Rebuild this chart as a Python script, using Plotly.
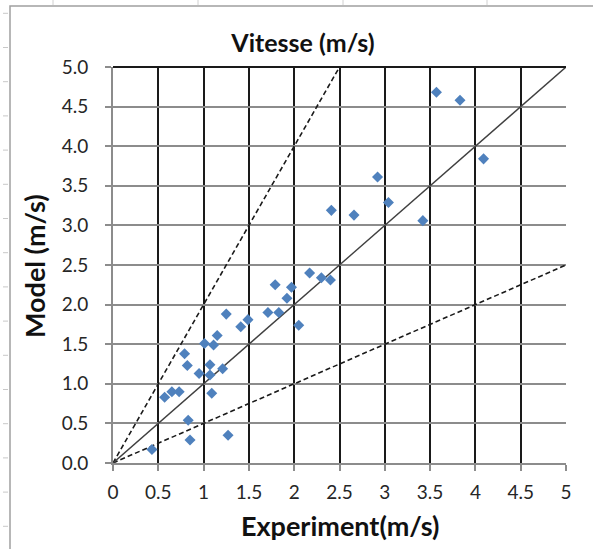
import plotly.graph_objects as go

# Data
experiment = [0.43, 0.57, 0.65, 0.73, 0.79, 0.82, 0.83, 0.85, 0.95, 1.01, 1.07, 1.07,
              1.09, 1.11, 1.15, 1.21, 1.25, 1.27, 1.41, 1.49, 1.71, 1.79, 1.83, 1.92,
              1.97, 2.05, 2.17, 2.30, 2.40, 2.41, 2.66, 2.92, 3.04, 3.42, 3.57, 3.83, 4.09]
model = [0.17, 0.83, 0.90, 0.90, 1.38, 1.23, 0.54, 0.29, 1.13, 1.51, 1.24, 1.11,
         0.88, 1.49, 1.61, 1.19, 1.88, 0.35, 1.72, 1.81, 1.90, 2.25, 1.90, 2.08,
         2.22, 1.74, 2.40, 2.34, 2.31, 3.19, 3.13, 3.61, 3.29, 3.06, 4.68, 4.58, 3.84]

ident_x = [0, 5]
ident_y = [0, 5]
upper_x = [0, 2.5]
upper_y = [0, 5]
lower_x = [0, 5]
lower_y = [0, 2.5]

x_ticks = [0, 0.5, 1, 1.5, 2, 2.5, 3, 3.5, 4, 4.5, 5]
x_ticklabels = ["0", "0.5", "1", "1.5", "2", "2.5", "3", "3.5", "4", "4.5", "5"]
y_ticks = [0, 0.5, 1, 1.5, 2, 2.5, 3, 3.5, 4, 4.5, 5]
y_ticklabels = ["0.0", "0.5", "1.0", "1.5", "2.0", "2.5", "3.0", "3.5", "4.0", "4.5", "5.0"]

W, H = 593, 549
L, R, T, B = 113, 566, 67, 463  # plot area in pixels


def px(x):
    return (x - L) / (R - L)


def py(y):
    return (B - y) / (B - T)


FONT = "Lato"

fig = go.Figure()
fig.add_trace(go.Scatter(x=upper_x, y=upper_y, mode="lines",
                         line=dict(color="#1a1a1a", width=1.6, dash="5px,3px"),
                         hoverinfo="skip", showlegend=False))
fig.add_trace(go.Scatter(x=lower_x, y=lower_y, mode="lines",
                         line=dict(color="#1a1a1a", width=1.6, dash="5px,3px"),
                         hoverinfo="skip", showlegend=False))
fig.add_trace(go.Scatter(x=ident_x, y=ident_y, mode="lines",
                         line=dict(color="#404040", width=1.4),
                         hoverinfo="skip", showlegend=False))
fig.add_trace(go.Scatter(x=experiment, y=model, mode="markers",
                         marker=dict(symbol="diamond", size=8.5, color="#4F81BD"),
                         showlegend=False))

shapes = []
# outer chart frame
shapes.append(dict(type="rect", xref="paper", yref="paper",
                   x0=px(10), x1=px(620), y0=py(570), y1=py(6),
                   line=dict(color="#a0a0a0", width=1.5), layer="below"))
# spreadsheet grid lines outside the frame
for gx in [53, 198, 343, 487]:
    shapes.append(dict(type="line", xref="paper", yref="paper",
                       x0=px(gx), x1=px(gx), y0=py(0), y1=py(5),
                       line=dict(color="#d0d0d0", width=1)))
for k in range(16):
    gy = 13.3 + 34.2 * k
    if gy > H:
        break
    shapes.append(dict(type="line", xref="paper", yref="paper",
                       x0=px(3), x1=px(8), y0=py(gy), y1=py(gy),
                       line=dict(color="#c8c8c8", width=1)))
# top border of the plot area
shapes.append(dict(type="line", xref="paper", yref="paper",
                   x0=0, x1=1, y0=1, y1=1,
                   line=dict(color="#1a1a1a", width=2)))

fig.update_layout(
    width=W, height=H,
    margin=dict(l=L, r=W - R, t=T, b=H - B),
    paper_bgcolor="white", plot_bgcolor="white",
    shapes=shapes,
    font=dict(family=FONT, color="#262626"),
    title=dict(text="<b>Vitesse (m/s)</b>", xref="container", yref="container",
               x=303 / W, y=1 - 43 / H, xanchor="center", yanchor="middle",
               font=dict(family=FONT, size=25, color="#111111")),
    annotations=[
        dict(text="<b>Experiment(m/s)</b>", xref="paper", yref="paper",
             x=px(340), y=py(525), xanchor="center", yanchor="middle",
             showarrow=False, font=dict(family=FONT, size=27, color="#111111")),
        dict(text="<b>Model (m/s)</b>", xref="paper", yref="paper",
             x=px(34), y=py(266), xanchor="center", yanchor="middle",
             textangle=-90, showarrow=False,
             font=dict(family=FONT, size=27, color="#111111")),
    ],
)

fig.update_xaxes(range=[0, 5], tickmode="array", tickvals=x_ticks, ticktext=x_ticklabels,
                 showgrid=True, gridcolor="#1a1a1a", gridwidth=1.8,
                 showline=True, linecolor="#8c8c8c", linewidth=2,
                 ticks="outside", ticklen=6, tickcolor="#8c8c8c", tickwidth=1.5,
                 ticklabelstandoff=5,
                 tickfont=dict(family=FONT, size=19, color="#262626"),
                 zeroline=False, fixedrange=True)
fig.update_yaxes(range=[0, 5], tickmode="array", tickvals=y_ticks, ticktext=y_ticklabels,
                 showgrid=True, gridcolor="#8c8c8c", gridwidth=2,
                 showline=True, linecolor="#8c8c8c", linewidth=2,
                 ticks="outside", ticklen=6, tickcolor="#8c8c8c", tickwidth=1.5,
                 ticklabelstandoff=13,
                 tickfont=dict(family=FONT, size=19, color="#262626"),
                 zeroline=False, fixedrange=True)

fig.write_html("out.html")
